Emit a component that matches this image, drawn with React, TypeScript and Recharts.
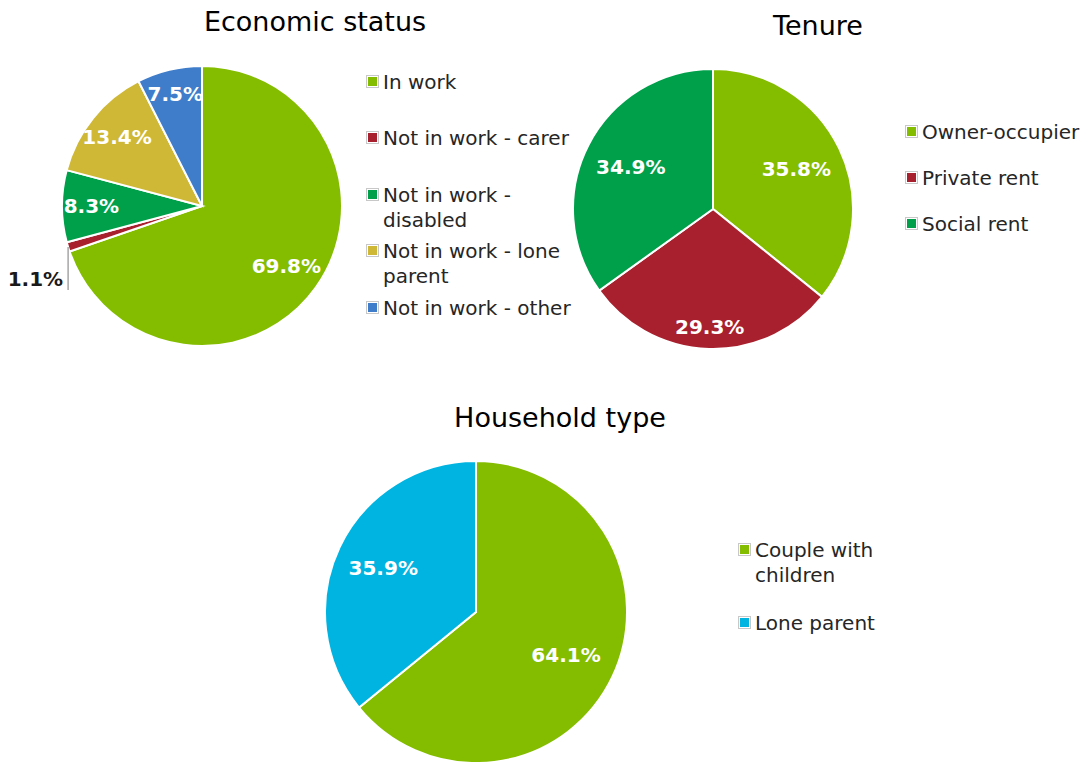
import React from 'react';
import { PieChart, Pie, Cell } from 'recharts';

const economicNames = ['In work', 'Not in work - carer', 'Not in work - disabled', 'Not in work - lone parent', 'Not in work - other'];
const economicLegendLines = [['In work'], ['Not in work - carer'], ['Not in work -', 'disabled'], ['Not in work - lone', 'parent'], ['Not in work - other']];
const economicValues = [69.8, 1.1, 8.3, 13.4, 7.5];
const economicColors = ['#84BD00', '#A8202D', '#00A04B', '#CFB836', '#3F7DCA'];

const tenureNames = ['Owner-occupier', 'Private rent', 'Social rent'];
const tenureValues = [35.8, 29.3, 34.9];
const tenureColors = ['#84BD00', '#A8202D', '#00A04B'];

const householdNames = ['Couple with children', 'Lone parent'];
const householdLegendLines = [['Couple with', 'children'], ['Lone parent']];
const householdValues = [64.1, 35.9];
const householdColors = ['#84BD00', '#00B4E1'];

const economicData = economicNames.map((name, i) => ({ name, value: economicValues[i] }));
const tenureData = tenureNames.map((name, i) => ({ name, value: tenureValues[i] }));
const householdData = householdNames.map((name, i) => ({ name, value: householdValues[i] }));

const FONT = '"DejaVu Sans", "Noto Sans", sans-serif';
const RAD = Math.PI / 180;

const makeLabel = (fractions: number[], outsideIndex: number = -1) => (props: any) => {
  const { cx, cy, midAngle, outerRadius, index, value } = props;
  const cos = Math.cos(-midAngle * RAD);
  const sin = Math.sin(-midAngle * RAD);
  const text = `${Number(value).toFixed(1)}%`;
  if (index === outsideIndex) {
    const ex = cx + outerRadius * cos;
    const ey = cy + outerRadius * sin;
    return (
      <g key={`l${index}`}>
        <line x1={ex} y1={ey} x2={ex} y2={ey + 43} stroke="#A6A6A6" strokeWidth={1.5} />
        <text x={ex - 5} y={ey + 32} textAnchor="end" dominantBaseline="central" fill="#1a1a1a"
          style={{ fontFamily: FONT, fontWeight: 'bold', fontSize: 20 }}>{text}</text>
      </g>
    );
  }
  const r = outerRadius * fractions[index];
  return (
    <text key={`l${index}`} x={cx + r * cos} y={cy + r * sin} textAnchor="middle" dominantBaseline="central" fill="#ffffff"
      style={{ fontFamily: FONT, fontWeight: 'bold', fontSize: 20 }}>{text}</text>
  );
};

const Marker = ({ color }: { color: string }) => (
  <span style={{ display: 'inline-block', width: 9, height: 9, border: '1px solid #C8C8C8', padding: 1, background: '#fff', marginRight: 4, verticalAlign: 'middle', boxSizing: 'content-box', position: 'relative', top: -2 }}>
    <span style={{ display: 'block', width: 9, height: 9, background: color }} />
  </span>
);

const LegendBlock = ({ x, items }: { x: number; items: { color: string; lines: string[]; y: number }[] }) => (
  <>
    {items.map((it, i) => (
      <div key={i} style={{ position: 'absolute', left: x, top: it.y - 13, fontFamily: FONT, fontSize: 20, color: '#262626', lineHeight: '25px', whiteSpace: 'nowrap' }}>
        {it.lines.map((ln, j) => (
          <div key={j} style={{ paddingLeft: j === 0 ? 0 : 17 }}>
            {j === 0 ? <Marker color={it.color} /> : null}
            {ln}
          </div>
        ))}
      </div>
    ))}
  </>
);

const Title = ({ x, y, text }: { x: number; y: number; text: string }) => (
  <div style={{ position: 'absolute', left: x - 200, width: 400, top: y - 18, textAlign: 'center', fontFamily: FONT, fontSize: 27, color: '#000', lineHeight: '36px' }}>{text}</div>
);

export default function App() {
  return (
    <div style={{ position: 'absolute', left: 0, top: 0, width: 1088, height: 762, overflow: 'hidden', background: '#fff' }}>
      <div style={{ position: 'absolute', left: 0, top: 0 }}>
        <PieChart width={1088} height={762} margin={{ top: 0, right: 0, bottom: 0, left: 0 }}>
          <Pie data={economicData} dataKey="value" nameKey="name" cx={202} cy={206} outerRadius={140}
            startAngle={90} endAngle={-270} stroke="#ffffff" strokeWidth={2} isAnimationActive={false}
            labelLine={false} label={makeLabel([0.74, 0.8, 0.79, 0.78, 0.82], 1)}>
            {economicData.map((_, i) => <Cell key={i} fill={economicColors[i]} />)}
          </Pie>
          <Pie data={tenureData} dataKey="value" nameKey="name" cx={713} cy={209} outerRadius={140}
            startAngle={90} endAngle={-270} stroke="#ffffff" strokeWidth={2} isAnimationActive={false}
            labelLine={false} label={makeLabel([0.66, 0.84, 0.66])}>
            {tenureData.map((_, i) => <Cell key={i} fill={tenureColors[i]} />)}
          </Pie>
          <Pie data={householdData} dataKey="value" nameKey="name" cx={476} cy={612} outerRadius={151}
            startAngle={90} endAngle={-270} stroke="#ffffff" strokeWidth={2} isAnimationActive={false}
            labelLine={false} label={makeLabel([0.66, 0.68])}>
            {householdData.map((_, i) => <Cell key={i} fill={householdColors[i]} />)}
          </Pie>
        </PieChart>
      </div>
      <Title x={315} y={22} text="Economic status" />
      <Title x={818} y={26} text="Tenure" />
      <Title x={560} y={418} text="Household type" />
      <LegendBlock x={366} items={[
        { color: economicColors[0], lines: economicLegendLines[0], y: 83 },
        { color: economicColors[1], lines: economicLegendLines[1], y: 139 },
        { color: economicColors[2], lines: economicLegendLines[2], y: 196 },
        { color: economicColors[3], lines: economicLegendLines[3], y: 252 },
        { color: economicColors[4], lines: economicLegendLines[4], y: 309 },
      ]} />
      <LegendBlock x={905} items={[
        { color: tenureColors[0], lines: [tenureNames[0]], y: 133 },
        { color: tenureColors[1], lines: [tenureNames[1]], y: 179 },
        { color: tenureColors[2], lines: [tenureNames[2]], y: 225 },
      ]} />
      <LegendBlock x={738} items={[
        { color: householdColors[0], lines: householdLegendLines[0], y: 551 },
        { color: householdColors[1], lines: householdLegendLines[1], y: 624 },
      ]} />
    </div>
  );
}
